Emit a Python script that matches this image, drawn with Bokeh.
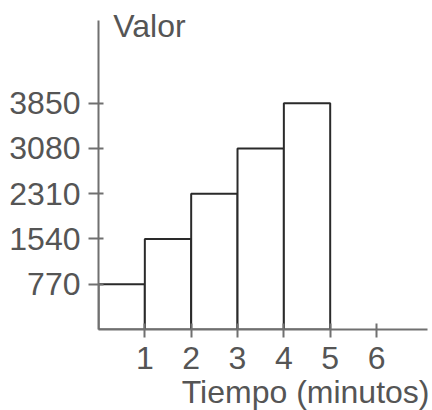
from bokeh.plotting import figure
from bokeh.models import Range1d, FixedTicker, Label, Title
from bokeh.embed import file_html
from bokeh.resources import INLINE

# Data
tiempo = [1, 2, 3, 4, 5]
valor = [770, 1540, 2310, 3080, 3850]
x_ticks = [1, 2, 3, 4, 5, 6]
y_ticks = [770, 1540, 2310, 3080, 3850]
x_title = "Tiempo (minutos)"
y_title = "Valor"

FONT = "Liberation Sans"
TXT = "#555555"
AX = "#707070"

p = figure(width=432, height=410, output_backend="svg", toolbar_location=None,
           x_range=Range1d(0, 7.1), y_range=Range1d(0, 5461),
           min_border_left=98, min_border_right=5, min_border_top=8,
           min_border_bottom=81)
p.outline_line_color = None
p.xgrid.visible = False
p.ygrid.visible = False
p.background_fill_color = "white"
p.border_fill_color = "white"

left = [t - 1 for t in tiempo]
p.quad(left=left, right=tiempo, bottom=0, top=valor,
       fill_color="white", line_color="#2a2a2a", line_width=2)

for ax in (p.xaxis[0], p.yaxis[0]):
    ax.axis_line_color = AX
    ax.axis_line_width = 2
    ax.major_tick_line_color = AX
    ax.major_tick_line_width = 2
    ax.minor_tick_line_color = None
    ax.major_label_text_font = FONT
    ax.major_label_text_font_size = "32px"
    ax.major_label_text_color = TXT

p.yaxis.bounds = (0, 5257)
p.xaxis.ticker = FixedTicker(ticks=x_ticks)
p.yaxis.ticker = FixedTicker(ticks=y_ticks)
p.xaxis.major_tick_in = 6
p.xaxis.major_tick_out = 8
p.xaxis.major_label_standoff = 9
p.yaxis.major_tick_in = 5
p.yaxis.major_tick_out = 10
p.yaxis.major_label_standoff = 8

p.add_layout(Label(x=0.32, y=5160, text=y_title, text_font=FONT,
                   text_font_size="32px", text_color=TXT,
                   text_align="left", text_baseline="alphabetic"))
p.add_layout(Title(text=x_title, align="right", text_font=FONT,
                   text_font_size="32px", text_color=TXT,
                   text_font_style="normal", standoff=0, offset=-2), "below")

open("out.html", "w").write(file_html(p, INLINE))
